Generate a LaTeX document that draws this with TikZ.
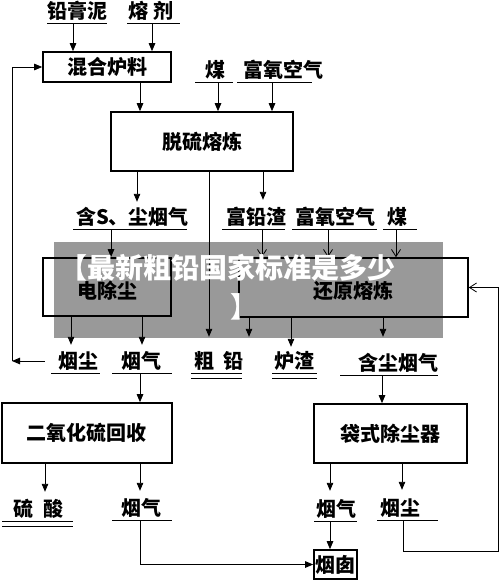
\documentclass[tikz,border=0pt]{standalone}
\usepackage{fontspec}
\setmainfont{Noto Sans CJK SC}
\newfontfamily\wmfont{Noto Sans CJK SC}
\usetikzlibrary{arrows.meta}
\newcommand\dlabelfont{\bfseries\fontsize{20}{20}\selectfont}
\begin{document}
\begin{tikzpicture}[x=1pt,y=-1pt,
  box/.style={draw, line width=1.6pt, inner sep=0pt, font=\dlabelfont},
  lbl/.style={inner sep=0pt, minimum height=24pt, font=\dlabelfont},
  arr/.style={line width=0.9pt, -{Triangle[length=8pt,width=6.5pt]}},
  oarr/.style={line width=0.8pt, -{Straight Barb[length=7pt,width=9pt]}},
  ul/.style={line width=0.9pt},
  wm/.style={inner sep=0pt, text=white, font=\wmfont\bfseries\fontsize{28}{28}\selectfont},
]
\fill[white] (0,0) rectangle (500,581);
\useasboundingbox (0,0) rectangle (500,581);

% boxes
\node[box, minimum width=128pt, minimum height=30pt] (mix) at (107,67) {混合炉料};
\node[box, minimum width=182pt, minimum height=59pt] (desulf) at (202,141.5) {脱硫熔炼};
\node[box, minimum width=128pt, minimum height=58pt,
      label={[font=\dlabelfont, inner sep=0pt, yshift=-4pt]center:电除尘}] (esp) at (107,287) {};
\node[box, minimum width=229pt, minimum height=59pt,
      label={[font=\dlabelfont, inner sep=0pt, yshift=-3pt]center:还原熔炼}] (red) at (353.5,287.5) {};
\node[box, minimum width=170pt, minimum height=60pt] (so2) at (87,433) {二氧化硫回收};
\node[box, minimum width=153pt, minimum height=59pt] (bag) at (390.5,433.5) {袋式除尘器};
\node[box, minimum width=43pt, minimum height=29pt] (chim) at (335.5,564.5) {烟囱};

% labels (node south = underline)
\node[lbl] (lead) at (77,11) {铅膏泥};
\node[lbl] (flux) at (150.5,11) {熔\hspace{5pt}剂};
\node[lbl] (coal1) at (215,70) {煤};
\node[lbl] (oxy1) at (283,70) {富氧空气};
\node[lbl] (sdust) at (132.5,217) {含S、尘烟气};
\node[lbl] (pbslag) at (256,217) {富铅渣};
\node[lbl] (oxy2) at (335,217) {富氧空气};
\node[lbl] (coal2) at (397.5,217) {煤};
\node[lbl] (dust1) at (78,361) {烟尘};
\node[lbl] (gas1) at (141,361) {烟气};
\node[lbl] (pb) at (218.5,361) {粗\hspace{9pt}铅};
\node[lbl] (slag) at (294,361) {炉渣};
\node[lbl] (dgas) at (398.5,363) {含尘烟气};
\node[lbl] (acid) at (38,509) {硫\hspace{10pt}酸};
\node[lbl] (gas2) at (141,508) {烟气};
\node[lbl] (gas3) at (336,509) {烟气};
\node[lbl] (dust2) at (400,508) {烟尘};

% underlines
\draw[ul] ([xshift=-30pt]lead.south) -- ([xshift=30pt]lead.south);
\draw[ul] ([xshift=-23.5pt]flux.south) -- ([xshift=29.5pt]flux.south);
\draw[ul] ([xshift=-20pt]coal1.south) -- ([xshift=18pt]coal1.south);
\draw[ul] ([xshift=-46pt]oxy1.south) -- ([xshift=29pt]oxy1.south);
\draw[ul] ([xshift=-59.5pt]sdust.south) -- ([xshift=54.5pt]sdust.south);
\draw[ul] ([xshift=-34pt]pbslag.south) -- ([xshift=29pt]pbslag.south);
\draw[ul] ([xshift=-43pt]oxy2.south) -- ([xshift=42pt]oxy2.south);
\draw[ul] ([xshift=-14.5pt]coal2.south) -- ([xshift=19.5pt]coal2.south);
\draw[ul] ([xshift=-27pt]dust1.south) -- ([xshift=22pt]dust1.south);
\draw[ul] ([xshift=-29pt]gas1.south) -- ([xshift=31pt]gas1.south);
\draw[ul] ([xshift=-27.5pt]pb.south) -- ([xshift=23.5pt]pb.south);
\draw[ul] ([xshift=-27.5pt,yshift=-5pt]pb.south) -- ([xshift=23.5pt,yshift=-5pt]pb.south);
\draw[ul] ([xshift=-22pt]slag.south) -- ([xshift=23pt]slag.south);
\draw[ul] ([xshift=-22pt,yshift=-5pt]slag.south) -- ([xshift=23pt,yshift=-5pt]slag.south);
\draw[ul] ([xshift=-58.5pt]dgas.south) -- ([xshift=39.5pt]dgas.south);
\draw[ul] ([xshift=-36pt]acid.south) -- ([xshift=35pt]acid.south);
\draw[ul] ([xshift=-36pt,yshift=-5pt]acid.south) -- ([xshift=35pt,yshift=-5pt]acid.south);
\draw[ul] ([xshift=-29pt]gas2.south) -- ([xshift=31pt]gas2.south);
\draw[ul] ([xshift=-22pt]gas3.south) -- ([xshift=21pt]gas3.south);
\draw[ul] ([xshift=-23pt]dust2.south) -- ([xshift=38pt]dust2.south);

% connectors
\draw[arr] ([xshift=-4pt]lead.south) -- ([xshift=-4pt]lead.south |- mix.north);
\draw[arr] ([xshift=1.5pt]flux.south) -- ([xshift=1.5pt]flux.south |- mix.north);
\draw[arr] ([xshift=33pt]mix.south) -- ([xshift=33pt]mix.south |- desulf.north);
\draw[arr] ([xshift=3pt]coal1.south) -- ([xshift=3pt]coal1.south |- desulf.north);
\draw[arr] ([xshift=-11pt]oxy1.south) -- ([xshift=-11pt]oxy1.south |- desulf.north);
\draw[arr] ([xshift=-65pt]desulf.south) -- ([xshift=-65pt,yshift=3pt]desulf.south |- sdust.north);
\draw[arr] ([xshift=7pt]desulf.south) -- ([xshift=7pt,yshift=12pt]desulf.south |- pb.north);
\draw[arr] ([xshift=61pt]desulf.south) -- ([xshift=61pt,yshift=5pt]desulf.south |- pbslag.north);
\draw[arr] ([xshift=-21.5pt]sdust.south) -- ([xshift=-21.5pt]sdust.south |- esp.north);
\draw[oarr] ([xshift=6pt]pbslag.south) -- ([xshift=6pt]pbslag.south |- red.north);
\draw[oarr] ([xshift=-7pt]oxy2.south) -- ([xshift=-7pt]oxy2.south |- red.north);
\draw[oarr] ([xshift=-1.5pt]coal2.south) -- ([xshift=-1.5pt]coal2.south |- red.north);
\draw[arr] ([xshift=-36pt]esp.south) -- ([xshift=-36pt,yshift=4pt]esp.south |- dust1.north);
\draw[arr] ([xshift=35pt]esp.south) -- ([xshift=35pt,yshift=4pt]esp.south |- gas1.north);
\draw[arr] ([xshift=-104.5pt]red.south) -- ([xshift=-104.5pt,yshift=12pt]red.south |- pb.north);
\draw[arr] ([xshift=-62.5pt]red.south) -- ([xshift=-62.5pt,yshift=2pt]red.south |- slag.north);
\draw[arr] ([xshift=29.5pt]red.south) -- ([xshift=29.5pt,yshift=14pt]red.south |- dgas.north);
\draw[arr] ([xshift=-1pt]gas1.south) -- ([xshift=-1pt]gas1.south |- so2.north);
\draw[arr] ([xshift=-16.5pt]dgas.south) -- ([xshift=-16.5pt]dgas.south |- bag.north);
\draw[arr] ([xshift=-42pt]so2.south) -- ([xshift=-42pt,yshift=5pt]so2.south |- acid.north);
\draw[arr] ([xshift=53pt]so2.south) -- ([xshift=53pt,yshift=5pt]so2.south |- gas2.north);
\draw[arr] ([xshift=-60.5pt]bag.south) -- ([xshift=-60.5pt,yshift=6pt]bag.south |- gas3.north);
\draw[arr] ([xshift=11.5pt]bag.south) -- ([xshift=11.5pt,yshift=6pt]bag.south |- dust2.north);
\draw[arr] ([xshift=-6pt]gas3.south) -- ([xshift=-6pt]gas3.south |- chim.north);
\draw[arr] ([xshift=-1pt]gas2.south) |- (chim.west);

% feedback loops
\coordinate (fbL) at (12,361);
\draw[arr] ([xshift=-13pt]dust1.west) -- (fbL);
\draw[arr] (fbL) |- (mix.west);
\coordinate (fbR) at (498,551);
\draw[oarr] ([xshift=3pt]dust2.south) |- (fbR) |- (red.east);

% watermark overlay
\fill[black, opacity=0.4] (54,242) rectangle (443,338);
\node[wm, anchor=east] (wm1) at (396,268) {【最新粗铅国家标准是多少};
\node[wm, anchor=west] (wm2) at (230,307) {】};
\end{tikzpicture}
\end{document}
